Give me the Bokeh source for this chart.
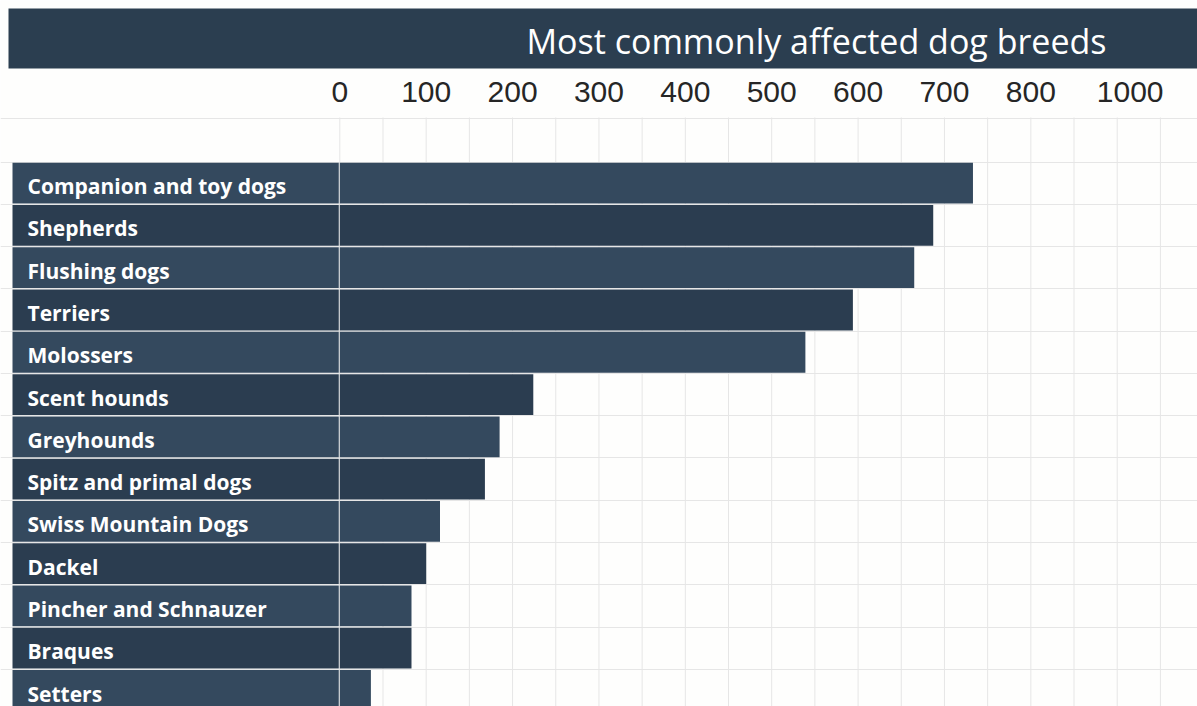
from bokeh.plotting import figure
from bokeh.models import (Range1d, FixedTicker, Grid, BoxAnnotation,
                          ColumnDataSource)
from bokeh.core.properties import value
from bokeh.embed import file_html
from bokeh.resources import INLINE

# ---- data -------------------------------------------------------------
TITLE = "Most commonly affected dog breeds"

BREEDS = [
    "Companion and toy dogs",
    "Shepherds",
    "Flushing dogs",
    "Terriers",
    "Molossers",
    "Scent hounds",
    "Greyhounds",
    "Spitz and primal dogs",
    "Swiss Mountain Dogs",
    "Dackel",
    "Pincher and Schnauzer",
    "Braques",
    "Setters",
]
COUNTS = [733, 687, 665, 594, 539, 224, 185, 168, 116, 100, 83, 83, 36]

TICK_LABELS = ["0", "100", "200", "300", "400", "500", "600", "700", "800", "1000"]
TICK_POS = [0, 100, 200, 300, 400, 500, 600, 700, 800, 915]

# ---- canvas geometry ----------------------------------------------------
W, H = 1197, 706
X0_PX = 339.3          # pixel column of count 0
PX_PER_UNIT = 0.8638   # horizontal pixels per counted case
ROW0_TOP_PX = 161.5    # top of the first row
ROW_PX = 42.28         # row pitch


def x_at(px):
    """Count-axis value at a horizontal pixel position."""
    return (px - X0_PX) / PX_PER_UNIT


def y_at(px):
    """Row-axis value at a vertical pixel position (row 0 centred on 0)."""
    return (px - ROW0_TOP_PX) / ROW_PX - 0.5


# ---- styling -----------------------------------------------------------
NAVY = "#2b3e50"
ROW_COLORS = ["#34495e", "#2b3d50"]
GRID_COLOR = "#e6e6e6"
BAR_H = 0.965

rows = list(range(len(BREEDS)))
src = ColumnDataSource(dict(
    y=rows,
    breed=BREEDS,
    count=COUNTS,
    color=[ROW_COLORS[i % 2] for i in rows],
))

p = figure(width=W, height=H,
           x_range=Range1d(x_at(0), x_at(W)), y_range=Range1d(y_at(H), y_at(0)),
           x_axis_location=None, y_axis_location=None,
           toolbar_location=None, output_backend="svg",
           min_border_left=0, min_border_right=0, min_border_top=0,
           min_border_bottom=0, outline_line_color=None,
           background_fill_color="#fefefd", border_fill_color="white")
p.xgrid.visible = False
p.ygrid.visible = False

grid_top = y_at(117)

# title band (kept beneath the title text)
p.add_layout(BoxAnnotation(left=x_at(8), right=x_at(W), top=y_at(8),
                           bottom=y_at(68), fill_color=NAVY, fill_alpha=1.0,
                           line_color=None, level="underlay"))

# horizontal rules: header top plus every row boundary
row_edges = [grid_top + 0.02] + [i - 0.5 for i in range(len(BREEDS) + 1)]
p.add_layout(Grid(dimension=1, ticker=FixedTicker(ticks=row_edges),
                  grid_line_color=GRID_COLOR, grid_line_width=1))

# vertical rules every 50 cases, from the header down
grid_x = list(range(0, 1000, 50))
p.segment(x0=grid_x, y0=[grid_top] * len(grid_x), x1=grid_x,
          y1=[y_at(H)] * len(grid_x), line_color=GRID_COLOR, line_width=1)

# name panels and count bars
p.hbar(y="y", left=x_at(12), right=-1.2, height=BAR_H,
       fill_color="color", line_color=None, source=src)
p.hbar(y="y", left=0, right="count", height=BAR_H,
       fill_color="color", line_color=None, source=src)

p.text(x=x_at(27), y="y", text="breed", source=src,
       text_font=value("Open Sans"), text_font_style="bold",
       text_font_size="21px", text_color="white",
       text_align="left", text_baseline="middle", y_offset=3)

# count scale labels across the top
p.text(x=TICK_POS, y=[y_at(91)] * len(TICK_POS), text=TICK_LABELS,
       text_font=value("Liberation Sans"), text_font_size="30px",
       text_color="#262626", text_align="center", text_baseline="middle")

# title
p.text(x=[x_at(816)], y=[y_at(40)], text=[TITLE],
       text_font=value("Open Sans"), text_font_size="34px",
       text_color="white", text_align="center", text_baseline="middle")

with open("out.html", "w") as f:
    f.write(file_html(p, INLINE, title=TITLE))
